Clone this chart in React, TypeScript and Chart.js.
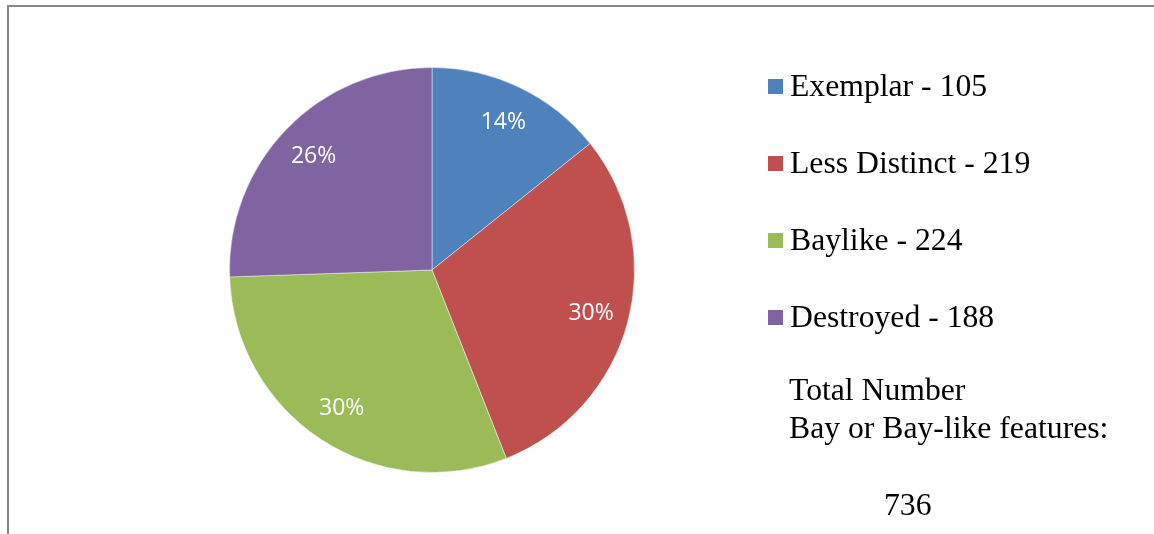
import React, { useEffect, useRef } from "react";
import { Chart, registerables } from "chart.js";

Chart.register(...registerables);

const categories = ["Exemplar", "Less Distinct", "Baylike", "Destroyed"];
const counts = [105, 219, 224, 188];
const colors = ["#4F81BD", "#C0504D", "#9BBB59", "#8064A2"];
const noteLines = ["Total Number", "Bay or Bay-like features:"];
const totalLabel = "736";

const framePlugin = {
  id: "frame",
  beforeDraw(chart: any) {
    const ctx = chart.ctx;
    ctx.save();
    ctx.fillStyle = "#868686";
    ctx.fillRect(7, 5, 1147, 2);
    ctx.fillRect(7, 5, 2, 529);
    ctx.restore();
  },
};

const labelsPlugin = {
  id: "pctLabels",
  afterDatasetsDraw(chart: any) {
    const ctx = chart.ctx;
    const meta = chart.getDatasetMeta(0);
    const data = chart.data.datasets[0].data as number[];
    const total = data.reduce((a, b) => a + b, 0);
    ctx.save();
    ctx.fillStyle = "#ffffff";
    ctx.font = "23px 'Open Sans'";
    ctx.textAlign = "center";
    ctx.textBaseline = "middle";
    meta.data.forEach((arc: any, i: number) => {
      const { x, y, startAngle, endAngle, outerRadius } = arc.getProps(
        ["x", "y", "startAngle", "endAngle", "outerRadius"],
        true
      );
      const mid = (startAngle + endAngle) / 2;
      const r = outerRadius * 0.813;
      const pct = Math.round((data[i] / total) * 100) + "%";
      ctx.fillText(pct, x + Math.cos(mid) * r, y + Math.sin(mid) * r + 1);
    });
    ctx.restore();
  },
};

const legendPlugin = {
  id: "customLegend",
  afterDraw(chart: any) {
    const ctx = chart.ctx;
    const labels = chart.data.labels as string[];
    const ds = chart.data.datasets[0];
    ctx.save();
    ctx.font = "31.7px 'Liberation Serif'";
    ctx.textBaseline = "middle";
    ctx.textAlign = "left";
    labels.forEach((lab, i) => {
      const y = 88 + i * 77;
      ctx.fillStyle = (ds.backgroundColor as string[])[i];
      ctx.fillRect(768, y - 9, 15, 15);
      ctx.fillStyle = "#000000";
      ctx.fillText(`${lab} - ${ds.data[i]}`, 790, y);
    });
    ctx.fillText(noteLines[0], 789, 392);
    ctx.fillText(noteLines[1], 789, 430);
    ctx.fillText(totalLabel, 884, 507);
    ctx.restore();
  },
};

export default function App() {
  const ref = useRef<HTMLCanvasElement>(null);
  useEffect(() => {
    document.body.style.margin = "0";
    const chart = new Chart(ref.current!, {
      type: "pie",
      data: {
        labels: categories,
        datasets: [
          {
            data: counts,
            backgroundColor: colors,
            borderColor: "rgba(255,255,255,0.45)",
            borderWidth: 1,
          },
        ],
      },
      options: {
        responsive: false,
        animation: false,
        layout: { padding: { left: 229, right: 519, top: 67, bottom: 61 } },
        plugins: {
          legend: { display: false },
          tooltip: { enabled: false },
        },
      },
      plugins: [framePlugin, labelsPlugin, legendPlugin],
    });
    return () => chart.destroy();
  }, []);
  return (
    <div style={{ width: 1154, height: 534, background: "#fff" }}>
      <canvas ref={ref} width={1154} height={534} style={{ display: "block" }} />
    </div>
  );
}
